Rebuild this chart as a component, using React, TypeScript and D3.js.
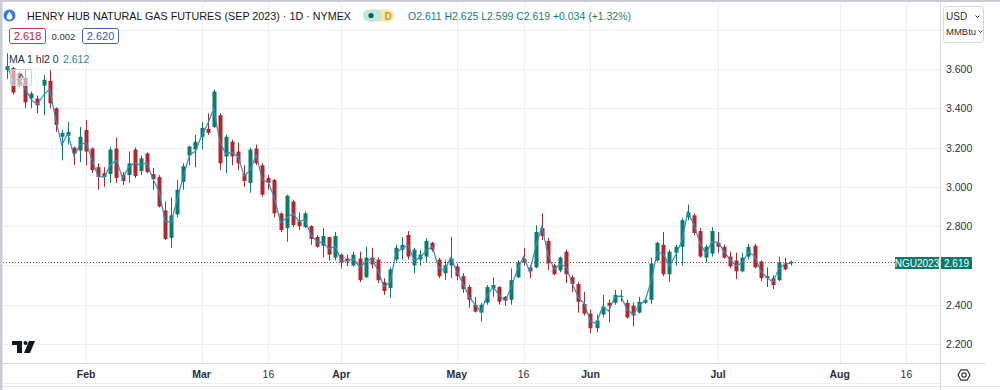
import * as d3 from "d3";
import { useEffect } from "react";

// daily bars, Jan 12 -> Jul 20 2023 (index = trading day)
const opens = [
  3.595, 3.605, 3.58, 3.555, 3.45, 3.45, 3.515, 3.54, 3.4, 3.255,
  3.26, 3.2, 3.185, 3.29, 3.195, 3.1, 3.07, 3.065, 3.195, 3.06,
  3.06, 3.19, 3.08, 3.17, 3.065, 3.05, 2.88, 2.74, 2.86, 3.025,
  3.16, 3.19, 3.255, 3.295, 3.305, 3.365, 3.155, 3.23, 3.18, 3.065,
  3.02, 3.195, 3.11, 3.045, 3.035, 2.865, 2.79, 2.925, 2.825, 2.795,
  2.8, 2.745, 2.7, 2.745, 2.64, 2.655, 2.635, 2.6, 2.635, 2.54,
  2.64, 2.63, 2.515, 2.485, 2.63, 2.68, 2.755, 2.6, 2.63, 2.645,
  2.715, 2.63, 2.56, 2.6, 2.595, 2.545, 2.49, 2.4, 2.36, 2.41,
  2.485, 2.49, 2.44, 2.425, 2.54, 2.635, 2.59, 2.59, 2.79, 2.725,
  2.6, 2.575, 2.67, 2.54, 2.505, 2.405, 2.355, 2.28, 2.35, 2.41,
  2.41, 2.44, 2.41, 2.395, 2.36, 2.41, 2.425, 2.625, 2.705, 2.555,
  2.665, 2.695, 2.845, 2.855, 2.775, 2.64, 2.66, 2.715, 2.695, 2.645,
  2.625, 2.57, 2.645, 2.7, 2.62, 2.545, 2.535, 2.525, 2.61, 2.611,
];
const highs = [
  3.68, 3.61, 3.59, 3.595, 3.485, 3.465, 3.57, 3.595, 3.405, 3.29,
  3.33, 3.205, 3.305, 3.34, 3.2, 3.12, 3.1, 3.205, 3.25, 3.075,
  3.18, 3.2, 3.16, 3.175, 3.095, 3.06, 2.925, 2.945, 3.035, 3.12,
  3.21, 3.265, 3.33, 3.375, 3.495, 3.375, 3.265, 3.24, 3.225, 3.11,
  3.2, 3.215, 3.12, 3.06, 3.04, 2.87, 2.96, 2.935, 2.87, 2.875,
  2.805, 2.755, 2.79, 2.745, 2.77, 2.66, 2.655, 2.67, 2.67, 2.695,
  2.69, 2.64, 2.535, 2.59, 2.705, 2.745, 2.775, 2.69, 2.68, 2.74,
  2.72, 2.64, 2.625, 2.745, 2.61, 2.56, 2.5, 2.44, 2.41, 2.5,
  2.54, 2.495, 2.445, 2.585, 2.625, 2.69, 2.6, 2.805, 2.865, 2.74,
  2.61, 2.645, 2.68, 2.55, 2.515, 2.465, 2.375, 2.35, 2.45, 2.425,
  2.475, 2.475, 2.425, 2.41, 2.44, 2.435, 2.64, 2.72, 2.77, 2.68,
  2.705, 2.84, 2.91, 2.865, 2.79, 2.705, 2.795, 2.77, 2.705, 2.67,
  2.665, 2.665, 2.71, 2.71, 2.625, 2.59, 2.55, 2.645, 2.64, 2.625,
];
const lows = [
  3.55, 3.47, 3.51, 3.4, 3.4, 3.375, 3.365, 3.4, 3.28, 3.135,
  3.215, 3.11, 3.125, 3.11, 3.07, 2.985, 3.0, 3.02, 3.02, 3.01,
  3.02, 3.045, 3.06, 3.07, 2.985, 2.895, 2.73, 2.69, 2.845, 2.985,
  3.11, 3.1, 3.19, 3.265, 3.3, 3.085, 3.07, 3.11, 3.085, 3.0,
  2.97, 3.11, 2.95, 2.985, 2.845, 2.77, 2.72, 2.795, 2.78, 2.79,
  2.705, 2.69, 2.64, 2.625, 2.625, 2.585, 2.595, 2.595, 2.515, 2.535,
  2.585, 2.51, 2.45, 2.435, 2.62, 2.63, 2.63, 2.56, 2.6, 2.615,
  2.67, 2.535, 2.525, 2.535, 2.525, 2.46, 2.385, 2.36, 2.315, 2.4,
  2.44, 2.4, 2.395, 2.4, 2.535, 2.6, 2.535, 2.585, 2.73, 2.575,
  2.55, 2.565, 2.51, 2.465, 2.36, 2.345, 2.255, 2.26, 2.335, 2.31,
  2.4, 2.415, 2.33, 2.29, 2.355, 2.405, 2.405, 2.62, 2.545, 2.515,
  2.6, 2.6, 2.83, 2.755, 2.64, 2.615, 2.645, 2.665, 2.635, 2.585,
  2.53, 2.565, 2.63, 2.585, 2.52, 2.49, 2.48, 2.52, 2.575, 2.599,
];
const closes = [
  3.615, 3.48, 3.52, 3.43, 3.475, 3.415, 3.545, 3.425, 3.315, 3.275,
  3.28, 3.17, 3.255, 3.18, 3.085, 3.05, 3.05, 3.19, 3.045, 3.03,
  3.12, 3.055, 3.145, 3.075, 3.04, 2.9, 2.735, 2.855, 2.985, 3.105,
  3.205, 3.23, 3.3, 3.275, 3.485, 3.12, 3.255, 3.155, 3.12, 3.03,
  3.19, 3.12, 2.96, 3.02, 2.865, 2.78, 2.955, 2.805, 2.8, 2.865,
  2.735, 2.695, 2.75, 2.655, 2.75, 2.615, 2.62, 2.655, 2.525, 2.64,
  2.605, 2.525, 2.47, 2.58, 2.69, 2.705, 2.645, 2.68, 2.655, 2.725,
  2.68, 2.545, 2.6, 2.635, 2.545, 2.48, 2.425, 2.365, 2.4, 2.49,
  2.5, 2.415, 2.42, 2.525, 2.615, 2.615, 2.57, 2.77, 2.75, 2.61,
  2.555, 2.64, 2.555, 2.505, 2.415, 2.355, 2.28, 2.32, 2.39, 2.395,
  2.45, 2.445, 2.335, 2.345, 2.415, 2.425, 2.61, 2.715, 2.555, 2.67,
  2.695, 2.83, 2.87, 2.765, 2.645, 2.695, 2.775, 2.695, 2.64, 2.595,
  2.57, 2.64, 2.695, 2.59, 2.535, 2.535, 2.5, 2.615, 2.58, 2.619,
];

const dateTickIndex = [13, 32, 43, 55, 74, 85, 96, 117, 137, 148];
const dateTickLabels = ["Feb", "Mar", "16", "Apr", "May", "16", "Jun", "Jul", "Aug", "16"];
const priceGrid = [2.0, 2.2, 2.4, 2.6, 2.8, 3.0, 3.2, 3.4, 3.6, 3.8];
const priceLabels = [2.2, 2.4, 2.8, 3.0, 3.2, 3.4, 3.6];

const W = 1000;
const H = 390;
const plotRight = 940;
const plotBottom = 363;
const UP = "#0d7a6a";
const DOWN = "#b0282f";
const MA_COLOR = "#2f8fbd";
const FONT = "'Liberation Sans', Arial, sans-serif";

export default function App() {
  useEffect(() => {
    document.body.style.margin = "0";
  }, []);

  const x = d3.scaleLinear().domain([0, 129]).range([7.1, 791]);
  const y = d3.scaleLinear().domain([2.2, 3.6]).range([344, 69]);

  const hl2 = highs.map((h, i) => (h + lows[i]) / 2);
  const maLine = d3
    .line<number>()
    .x((_, i) => x(i))
    .y((d) => y(d));

  const last = closes[closes.length - 1];
  const lastY = Math.round(y(last)) + 0.5;

  return (
    <svg width={W} height={H} style={{ display: "block", background: "#fff" }} fontFamily={FONT}>
      <rect x={0} y={0} width={W} height={H} fill="#fff" />

      {/* grid */}
      {dateTickIndex.map((d, i) => (
        <line key={"vg" + i} x1={Math.round(x(d)) + 0.5} x2={Math.round(x(d)) + 0.5} y1={3} y2={plotBottom} stroke="#eceef2" />
      ))}
      {priceGrid.map((p, i) => (
        <line key={"hg" + i} x1={3} x2={plotRight} y1={Math.round(y(p)) + 0.5} y2={Math.round(y(p)) + 0.5} stroke="#eceef2" />
      ))}

      {/* candles */}
      {opens.map((o, i) => {
        const c = closes[i];
        const col = c >= o ? UP : DOWN;
        const cx = Math.round(x(i));
        const top = y(Math.max(o, c));
        const bot = y(Math.min(o, c));
        return (
          <g key={"c" + i}>
            <line x1={cx + 0.5} x2={cx + 0.5} y1={y(highs[i])} y2={y(lows[i])} stroke={col} strokeWidth={1} />
            <rect x={cx - 1.5} y={top} width={4} height={Math.max(1, bot - top)} fill={col} />
          </g>
        );
      })}

      {/* MA 1 hl2 */}
      <path d={maLine(hl2) ?? ""} fill="none" stroke={MA_COLOR} strokeWidth={1.2} />

      {/* last price line */}
      <line x1={3} x2={895} y1={lastY} y2={lastY} stroke="#c0393f" strokeDasharray="1 2" />
      <rect x={895} y={257} width={44} height={12} fill="#0b7a69" />
      <text x={917} y={266.5} fontSize={10} fill="#fff" textAnchor="middle">NGU2023</text>
      <rect x={941} y={257} width={31} height={12} fill="#0b7a69" />
      <text x={956.5} y={266.5} fontSize={10} fill="#fff" textAnchor="middle">{last.toFixed(3)}</text>

      {/* right axis */}
      <line x1={plotRight + 0.5} x2={plotRight + 0.5} y1={0} y2={H} stroke="#d4d7de" />
      {priceLabels.map((p, i) => (
        <text key={"pl" + i} x={946} y={y(p) + 4} fontSize={10.5} fill="#2a2e39">
          {p.toFixed(3)}
        </text>
      ))}

      {/* bottom axis */}
      <line x1={0} x2={985} y1={plotBottom + 0.5} y2={plotBottom + 0.5} stroke="#d4d7de" />
      <line x1={0} x2={W} y1={386.5} y2={386.5} stroke="#e3e5ea" />
      {dateTickIndex.map((d, i) => {
        const lab = dateTickLabels[i];
        const bold = isNaN(Number(lab));
        return (
          <text key={"dl" + i} x={x(d)} y={378} fontSize={10.5} fontWeight={bold ? 700 : 400} fill="#2a2e39" textAnchor="middle">
            {lab}
          </text>
        );
      })}

      {/* gear icon */}
      <g transform="translate(964,375)" fill="none" stroke="#2a2e39" strokeWidth={1.2}>
        <polygon points="6,0 3,5.2 -3,5.2 -6,0 -3,-5.2 3,-5.2" />
        <circle r={2.2} />
      </g>

      {/* TV logo */}
      <g fill="#131722">
        <rect x={12} y={341} width={10} height={4} />
        <rect x={17} y={341} width={5} height={12} />
        <circle cx={25.5} cy={343} r={2} />
        <polygon points="29,341 35,341 30,353 24,353" />
      </g>

      {/* frame */}
      <rect x={0} y={0} width={W} height={2} fill="#c9ccd5" />
      <rect x={0} y={0} width={2.5} height={H} fill="#c9ccd5" />

      {/* header */}
      <circle cx={9.5} cy={15.5} r={6} fill="#2f7fd8" />
      <path d="M9.5,11.5 C11.5,14 12.3,15.5 12.3,17 A2.8,2.8 0 0 1 6.7,17 C6.7,15.5 7.5,14 9.5,11.5 Z" fill="#fff" />
      <text x={27} y={20} fontSize={11.2} fill="#131722" textLength={324} lengthAdjust="spacingAndGlyphs">
        HENRY HUB NATURAL GAS FUTURES (SEP 2023) · 1D · NYMEX
      </text>
      <rect x={363} y={9.5} width={31} height={12} rx={6} fill="#fbe6ad" />
      <rect x={363} y={9.5} width={19} height={12} rx={6} fill="#bfe8de" />
      <circle cx={371} cy={15.5} r={2.6} fill="#0e5e52" />
      <text x={388} y={19.5} fontSize={10} fontWeight={700} fill="#d99a12" textAnchor="middle">D</text>
      <text x={408} y={20} fontSize={10.5} fill="#14816f" textLength={223} lengthAdjust="spacingAndGlyphs">
        O2.611 H2.625 L2.599 C2.619 +0.034 (+1.32%)
      </text>

      <rect x={9.5} y={28.5} width={36} height={15} rx={2} fill="#fff" stroke="#b6424a" />
      <text x={27.5} y={40} fontSize={11} fill="#b0282f" textAnchor="middle">2.618</text>
      <text x={63.5} y={39.5} fontSize={9.5} fill="#2a2e39" textAnchor="middle">0.002</text>
      <rect x={82.5} y={28.5} width={36} height={15} rx={2} fill="#fff" stroke="#4a63ae" />
      <text x={100.5} y={40} fontSize={11} fill="#3a56a8" textAnchor="middle">2.620</text>

      <text x={9} y={63} fontSize={10.5} fill="#2a2e39">MA 1 hl2 0</text>
      <text x={63} y={63} fontSize={10.5} fill="#2a86a8">2.612</text>

      <rect x={10.5} y={69.5} width={21} height={16} rx={2} fill="#ffffff" fillOpacity={0.55} stroke="#c9ccd5" />
      <text x={21} y={82} fontSize={11} fill="#2a2e39" textAnchor="middle">^</text>

      {/* currency/unit box */}
      <rect x={943.5} y={6.5} width={40} height={36} rx={3} fill="#fff" stroke="#d4d7de" />
      <text x={946} y={20} fontSize={10} fill="#2a2e39">USD</text>
      <text x={946} y={35} fontSize={9.5} fill="#2a2e39">MMBtu</text>
      <path d="M975.5,15.5 L977.5,17.5 L979.5,15.5" fill="none" stroke="#2a2e39" />
      <path d="M978.5,30.5 L980.5,32.5 L982.5,30.5" fill="none" stroke="#2a2e39" />
    </svg>
  );
}
